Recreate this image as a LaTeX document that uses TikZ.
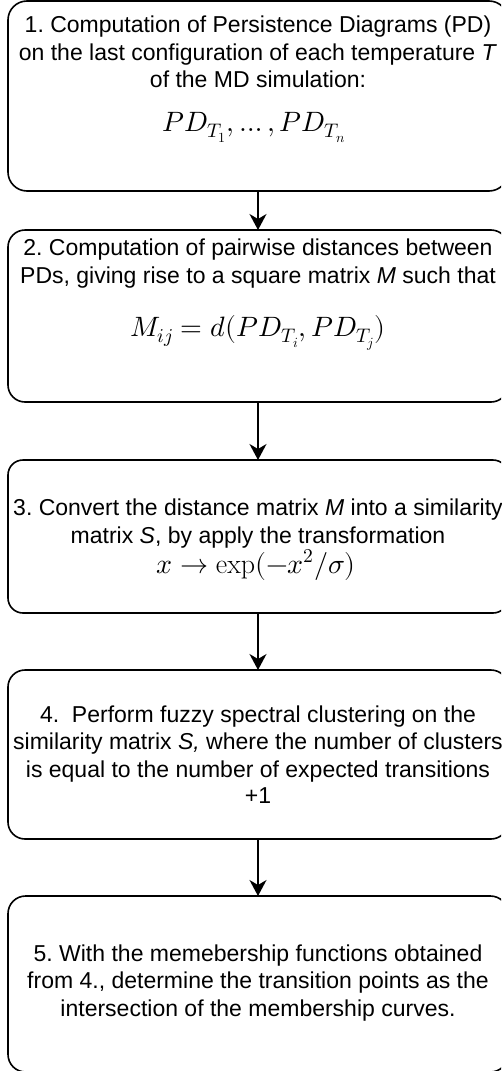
\documentclass[tikz,border=0pt]{standalone}
\usepackage{unicode-math}
\setmainfont{Liberation Sans}
\setmathfont{Latin Modern Math}
\setmathrm{Latin Modern Roman}
\usetikzlibrary{arrows.meta}
\frenchspacing
\begin{document}
\begin{tikzpicture}[x=1pt,y=-1pt,
  stepbox/.style={draw=black, line width=1.6pt, inner sep=0pt, outer sep=0pt, minimum width=500pt},
  txt/.style={anchor=base, inner sep=0pt, font=\fontsize{23}{27.7}\selectfont},
  mth/.style={anchor=base, inner sep=0pt, font=\fontsize{28}{32}\selectfont},
  arr/.style={line width=1.6pt, -{Stealth[length=16pt,width=17pt,inset=5pt]}}]
\useasboundingbox (0,0) rectangle (501,1071);
\clip (0,0) rectangle (501,1071);
\fill[white] (0,0) rectangle (501,1071);
% boxes
\node[stepbox, rounded corners=19pt, minimum height=190pt] (b1) at (258,96) {};
\node[stepbox, rounded corners=17pt, minimum height=172pt] (b2) at (258,316) {};
\node[stepbox, rounded corners=15pt, minimum height=153pt] (b3) at (258,536.5) {};
\node[stepbox, rounded corners=17pt, minimum height=169pt] (b4) at (258,754.5) {};
\node[stepbox, rounded corners=17.6pt, minimum height=176pt] (b5) at (258,984) {};
% box 1 text
\node[txt] (t1a) at (258,32) {1. Computation of Persistence Diagrams (PD)};
\node[txt] (t1b) at (258,60) {on the last configuration of each temperature \textit{T}};
\node[txt] (t1c) at (258,87) {of the MD simulation:};
\node[mth] (m1) at (254,131) {$PD_{T_1},\ldots,PD_{T_n}$};
% box 2 text
\node[txt] (t2a) at (258,255.5) {2. Computation of pairwise distances between};
\node[txt] (t2b) at (258,283) {PDs, giving rise to a square matrix \textit{M} such that};
\node[mth] (m2) at (258,336) {$M_{ij}=d(PD_{T_i},PD_{T_j})$};
% box 3 text
\node[txt] (t3a) at (258,515) {3. Convert the distance matrix \textit{M} into a similarity};
\node[txt] (t3b) at (258,543) {matrix \textit{S}, by apply the transformation};
\node[mth] (m3) at (256,573) {$x\rightarrow\exp(-x^2/\sigma)$};
% box 4 text
\node[txt] (t4a) at (258,722) {4.~~Perform fuzzy spectral clustering on the};
\node[txt] (t4b) at (258,749) {similarity matrix \textit{S,} where the number of clusters};
\node[txt] (t4c) at (258,777) {is equal to the number of expected transitions};
\node[txt] (t4d) at (258,803) {+1};
% box 5 text
\node[txt] (t5a) at (258,961) {5. With the memebership functions obtained};
\node[txt] (t5b) at (258,988) {from 4., determine the transition points as the};
\node[txt] (t5c) at (258,1016) {intersection of the membership curves.};
% arrows
\draw[arr] (b1.south) -- (b2.north);
\draw[arr] (b2.south) -- (b3.north);
\draw[arr] (b3.south) -- (b4.north);
\draw[arr] (b4.south) -- (b5.north);
\end{tikzpicture}
\end{document}
